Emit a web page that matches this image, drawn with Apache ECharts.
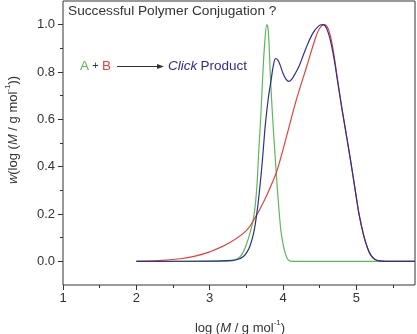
<!DOCTYPE html>
<html>
<head>
<meta charset="utf-8">
<style>
  html, body { margin: 0; padding: 0; background: #fff; }
  #chart { width: 417px; height: 334px; }
</style>
<script src="https://cdn.jsdelivr.net/npm/echarts@6/dist/echarts.min.js"></script>
</head>
<body>
<div id="chart"></div>
<script>
// Molecular weight distributions, w(log M) versus log M
const xMajorTicks = [1, 2, 3, 4, 5];
const xMinorTicks = [1.5, 2.5, 3.5, 4.5, 5.5];
const yMajorTicks = [0, 0.2, 0.4, 0.6, 0.8, 1.0];
const yMinorTicks = [0.1, 0.3, 0.5, 0.7, 0.9];

// Precursor A (green)
const curveA = [
  [2.0, 0], [3.0, 0], [3.3, 0.002], [3.4, 0.015], [3.45, 0.035], [3.5, 0.07],
  [3.55, 0.12], [3.6, 0.185], [3.64, 0.3], [3.67, 0.47], [3.7, 0.63], [3.72, 0.76],
  [3.75, 0.92], [3.78, 1.0], [3.8, 0.97], [3.83, 0.77], [3.86, 0.6], [3.885, 0.48],
  [3.92, 0.32], [3.95, 0.2], [3.975, 0.12], [4.0, 0.075], [4.03, 0.035],
  [4.065, 0.008], [4.1, 0.001], [4.2, 0], [5.8, 0]
];

// Precursor B (red)
const curveB = [
  [2.0, 0], [2.3, 0.003], [2.6, 0.011], [2.8, 0.022], [3.0, 0.04], [3.25, 0.075],
  [3.5, 0.13], [3.63, 0.19], [3.75, 0.26], [3.85, 0.33], [3.92, 0.385], [4.05, 0.53],
  [4.18, 0.68], [4.32, 0.82], [4.45, 0.95], [4.5, 0.985], [4.56, 1.0], [4.62, 0.98],
  [4.68, 0.9], [4.745, 0.765], [4.8, 0.655], [4.85, 0.56], [4.895, 0.476],
  [4.95, 0.37], [5.0, 0.27], [5.04, 0.194], [5.1, 0.11], [5.155, 0.054],
  [5.2, 0.025], [5.25, 0.009], [5.31, 0.002], [5.4, 0], [5.8, 0]
];

// Click product (blue)
const curveProduct = [
  [2.0, 0], [3.0, 0.001], [3.3, 0.004], [3.4, 0.01], [3.45, 0.018], [3.5, 0.035],
  [3.55, 0.065], [3.6, 0.12], [3.64, 0.195], [3.68, 0.3], [3.72, 0.43], [3.76, 0.58],
  [3.8, 0.69], [3.84, 0.77], [3.87, 0.83], [3.9, 0.857], [3.93, 0.85], [3.96, 0.83],
  [4.0, 0.795], [4.04, 0.77], [4.08, 0.76], [4.12, 0.77], [4.16, 0.79], [4.22, 0.825],
  [4.3, 0.89], [4.4, 0.96], [4.48, 0.993], [4.54, 1.0], [4.6, 0.98], [4.67, 0.9],
  [4.745, 0.76], [4.8, 0.65], [4.85, 0.56], [4.895, 0.476], [4.95, 0.37], [5.0, 0.27],
  [5.04, 0.194], [5.1, 0.11], [5.155, 0.054], [5.2, 0.025], [5.25, 0.009],
  [5.31, 0.002], [5.4, 0], [5.8, 0]
];

const GREEN = '#5cb85a';
const RED = '#e2433c';
const BLUE = '#2e2f8a';
const INK = '#333333';
const FONT = 'Liberation Sans, Arial, sans-serif';

const chart = echarts.init(document.getElementById('chart'), null, { renderer: 'canvas' });

const X_MIN = 1, X_MAX = 5.8, Y_MIN = -0.1, Y_MAX = 1.1;

function lineSeries(data, color) {
  return {
    type: 'line',
    data: data,
    showSymbol: false,
    smooth: 0.4,
    lineStyle: { color: color, width: 1.2 },
    animation: false,
    z: 3
  };
}

function tickAxis(min, max, position, ticks, length, labels) {
  return {
    type: 'value', min: min, max: max, position: position,
    axisLine: { show: false, onZero: false },
    splitLine: { show: false },
    axisTick: { show: true, inside: false, length: length, customValues: ticks, lineStyle: { color: INK, width: 1 } },
    axisLabel: labels
      ? Object.assign({ show: true, customValues: ticks, color: INK, fontSize: 13, fontFamily: FONT }, labels)
      : { show: false }
  };
}

chart.setOption({
  animation: false,
  grid: {
    left: 63, top: 1, right: 2, bottom: 49,
    show: true, borderColor: INK, borderWidth: 1, backgroundColor: 'transparent'
  },
  xAxis: [
    tickAxis(X_MIN, X_MAX, 'bottom', xMajorTicks, 5, { margin: 7 }),
    tickAxis(X_MIN, X_MAX, 'bottom', xMinorTicks, 3, null)
  ],
  yAxis: [
    tickAxis(Y_MIN, Y_MAX, 'left', yMajorTicks, 5, { margin: 8, formatter: v => v.toFixed(1) }),
    tickAxis(Y_MIN, Y_MAX, 'left', yMinorTicks, 3, null)
  ],
  series: [
    lineSeries(curveA, GREEN),
    lineSeries(curveB, RED),
    lineSeries(curveProduct, BLUE)
  ],
  graphic: [
    {
      type: 'text', left: 68, top: 4,
      style: { text: 'Successful Polymer Conjugation ?', fill: INK, font: '13.7px ' + FONT }
    },
    {
      type: 'text', left: 80, top: 59,
      style: {
        text: '{a|A} {p|+} {b|B}',
        rich: {
          a: { fill: GREEN, font: '13.5px ' + FONT },
          p: { fill: INK, font: '11px ' + FONT },
          b: { fill: RED, font: '13.5px ' + FONT }
        }
      }
    },
    {
      type: 'line', shape: { x1: 117, y1: 66.5, x2: 161, y2: 66.5 },
      style: { stroke: INK, lineWidth: 1 }
    },
    {
      type: 'polygon', shape: { points: [[164, 66.5], [157, 64], [157, 69]] },
      style: { fill: INK }
    },
    {
      type: 'text', left: 168, top: 59,
      style: {
        text: '{c|Click} {d|Product}',
        rich: {
          c: { fill: BLUE, font: 'italic 13.5px ' + FONT },
          d: { fill: BLUE, font: '13.5px ' + FONT }
        }
      }
    },
    {
      type: 'text', x: 240, y: 319,
      style: {
        text: '{n|log (}{i|M}{n| / g mol}{s|-1}{n|)}',
        align: 'center', verticalAlign: 'top',
        rich: {
          n: { fill: INK, font: '13px ' + FONT, lineHeight: 16, verticalAlign: 'bottom' },
          i: { fill: INK, font: 'italic 13px ' + FONT, lineHeight: 16, verticalAlign: 'bottom' },
          s: { fill: INK, font: '8px ' + FONT, lineHeight: 16, verticalAlign: 'top' }
        }
      }
    },
    {
      type: 'text', x: 12, y: 130, rotation: Math.PI / 2,
      style: {
        text: '{i|w}{n|(log (}{i|M}{n| / g mol}{s|-1}{n|))}',
        align: 'center', verticalAlign: 'middle',
        rich: {
          n: { fill: INK, font: '13px ' + FONT, lineHeight: 16, verticalAlign: 'bottom' },
          i: { fill: INK, font: 'italic 13px ' + FONT, lineHeight: 16, verticalAlign: 'bottom' },
          s: { fill: INK, font: '8px ' + FONT, lineHeight: 16, verticalAlign: 'top' }
        }
      }
    }
  ]
});
</script>
</body>
</html>
